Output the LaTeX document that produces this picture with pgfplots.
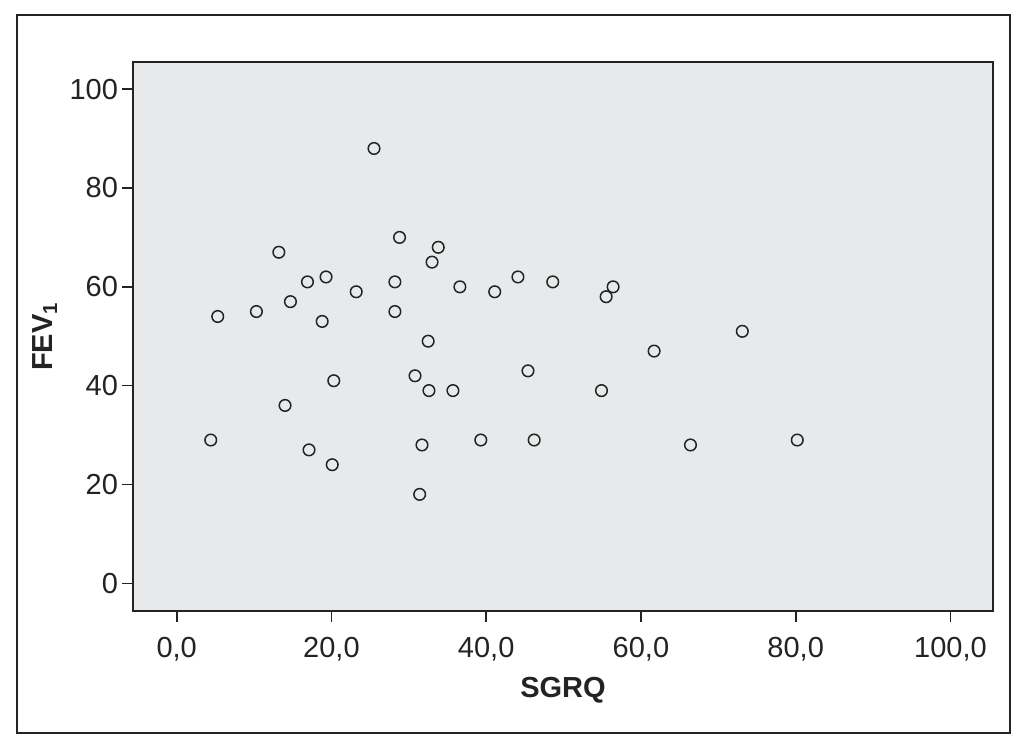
\documentclass[border=0pt]{standalone}
\usepackage{pgfplots}
\pgfplotsset{compat=1.18}
\usepackage{fontspec}
\setmainfont{Liberation Sans}
\definecolor{bggray}{RGB}{232,233,235}
\definecolor{ink}{RGB}{35,35,35}
\begin{document}
\begin{tikzpicture}
\begin{axis}[
  at={(0,0)}, anchor=south west,
  scale only axis,
  width=430pt, height=274.5pt,
  xmin=-5.65, xmax=105.5,
  ymin=-5.6, ymax=105.5,
  axis background/.style={fill=bggray},
  axis line style={ink, line width=0.8pt},
  xtick={0,20,40,60,80,100},
  ytick={0,20,40,60,80,100},
  tick align=outside,
  major tick length=5.5pt,
  tick style={ink, line width=0.8pt},
  xtick pos=bottom, ytick pos=left,
  xticklabel style={/pgf/number format/.cd, fixed, fixed zerofill, precision=1, use comma, assume math mode=true},
  yticklabel style={/pgf/number format/.cd, fixed, precision=0, assume math mode=true},
  ticklabel style={font=\fontsize{14.5}{16}\selectfont, text=ink},
  xticklabel shift=4pt,
  yticklabel shift=-1.5pt,
  xlabel={\textbf{SGRQ}},
  ylabel={\textbf{FEV\textsubscript{1}}},
  xlabel style={at={(axis description cs:0.5,-0.1439)}, anchor=center, font=\fontsize{14.5}{16}\selectfont, text=ink},
  ylabel style={at={(axis description cs:-0.1023,0.5)}, anchor=center, font=\fontsize{14.5}{16}\selectfont, text=ink},
  clip=false,
]
\addplot[only marks, mark=o, mark size=2.9pt, mark options={ink, line width=0.75pt}] coordinates {
(4.4,29) (5.3,54) (10.3,55) (13.2,67) (14.0,36) (14.7,57) (16.9,61) (17.1,27)
(19.3,62) (18.8,53) (20.3,41) (20.1,24) (23.2,59) (25.5,88) (28.2,61) (28.2,55)
(28.8,70) (32.5,49) (33.0,65) (33.8,68) (30.8,42) (32.6,39) (31.7,28) (31.4,18)
(35.7,39) (36.6,60) (39.3,29) (41.1,59) (44.1,62) (45.4,43) (46.2,29) (48.6,61)
(54.9,39) (55.5,58) (56.4,60) (61.7,47) (66.4,28) (73.1,51) (80.2,29)
};
\end{axis}
\draw[ink, line width=1.25pt] (-58pt,-61pt) rectangle (438.5pt,298pt);
\path (-66.5pt,-69.5pt) rectangle (446pt,305.5pt);
\end{tikzpicture}
\end{document}
